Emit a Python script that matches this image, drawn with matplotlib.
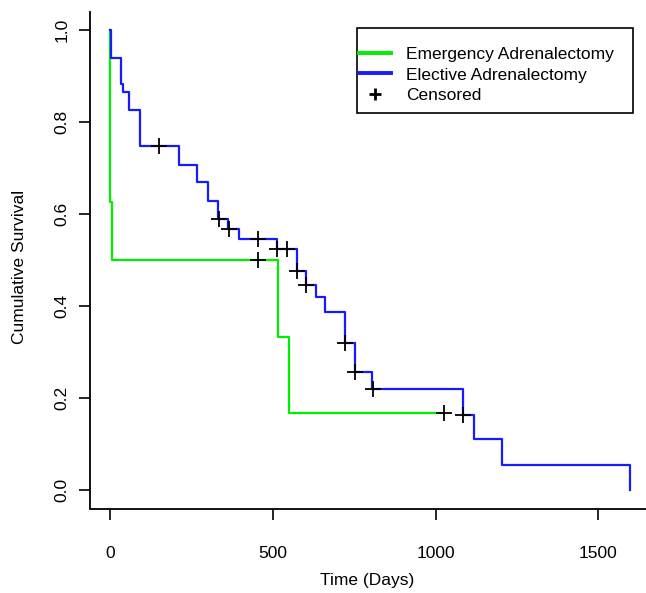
import numpy as np
import matplotlib.pyplot as plt
from matplotlib.lines import Line2D
from matplotlib.patches import Rectangle

plt.rcParams['font.family'] = ['Liberation Sans', 'DejaVu Sans']

# elective adrenalectomy: step times (days) and survival after each step
elective_t = [0, 4, 34, 39, 60, 91, 213, 269, 302, 333, 363, 397, 514, 575,
              602, 632, 662, 722, 752, 804, 1085, 1117, 1205, 1598]
elective_s = [1.0, 0.940, 0.882, 0.864, 0.826, 0.748, 0.707, 0.669, 0.629,
              0.589, 0.567, 0.545, 0.524, 0.476, 0.446, 0.419, 0.386, 0.320,
              0.257, 0.220, 0.163, 0.110, 0.054, 0.0]
elective_cens = [150, 335, 366, 455, 514, 543, 575, 602, 722, 752, 808, 1085]

# emergency adrenalectomy
emergency_t = [0, 1, 7, 516, 550]
emergency_s = [1.0, 0.625, 0.5, 0.333, 0.167]
emergency_end = 1025
emergency_cens = [456, 1025]

x_ticks = [0, 500, 1000, 1500]
y_ticks = [0.0, 0.2, 0.4, 0.6, 0.8, 1.0]


def level_at(t, s, times):
    idx = np.searchsorted(t, times, side='right') - 1
    return np.asarray(s)[idx]


fig = plt.figure(figsize=(6.46, 5.93), dpi=100)
W, H = 646, 593
ax = fig.add_axes([90 / W, 1 - 508.5 / H, (W - 90) / W, (508.5 - 11.5) / H])

green = '#00ee00'
blue = '#1a1aff'

ax.step(emergency_t + [emergency_end], emergency_s + [emergency_s[-1]],
        where='post', color=green, lw=1.6)
ax.step(elective_t, elective_s, where='post', color=blue, lw=1.6)

ax.plot(emergency_cens, level_at(emergency_t, emergency_s, emergency_cens),
        ls='none', marker='+', ms=11, mew=1.3, color='black')
ax.plot(elective_cens, level_at(elective_t, elective_s, elective_cens),
        ls='none', marker='+', ms=11, mew=1.3, color='black')

ax.set_xlim(-61, 1646)
ax.set_ylim(-0.04, 1.04)
ax.set_xticks(x_ticks)
ax.set_yticks(y_ticks)
ax.set_xticklabels([str(v) for v in x_ticks])
ax.set_yticklabels(['%.1f' % v for v in y_ticks], rotation=90, va='center')
ax.spines['top'].set_visible(False)
ax.spines['right'].set_visible(False)
for sp in ['left', 'bottom']:
    ax.spines[sp].set_linewidth(1.3)
ax.tick_params(axis='both', length=8, width=1.2, labelsize=12.5)
ax.tick_params(axis='x', pad=19)
ax.tick_params(axis='y', pad=7)

fig.text(20 / W, 1 - 267 / H, 'Cumulative Survival', rotation=90,
         ha='center', va='center', fontsize=12.5)
fig.text(367 / W, 1 - 580 / H, 'Time (Days)', ha='center', va='center',
         fontsize=12.5)

# legend box drawn separately (R-style, handles hug the left edge)
fig.add_artist(Rectangle((357 / W, 1 - 113 / H), 276 / W, 85 / H,
                         transform=fig.transFigure, fill=False,
                         edgecolor='black', lw=1.2))
handles = [Line2D([], [], color=green, lw=2.8),
           Line2D([], [], color=blue, lw=2.8),
           Line2D([], [], ls='none', marker='+', ms=9, mew=2, color='black')]
labels = ['Emergency Adrenalectomy', 'Elective Adrenalectomy', 'Censored']
leg = fig.legend(handles, labels, loc='upper left',
                 bbox_to_anchor=(359 / W, 1 - 47 / H), fontsize=12.5,
                 frameon=False, borderpad=0, borderaxespad=0,
                 labelspacing=0.3, handlelength=1.85, handletextpad=0.87)

fig.savefig('out.png', dpi=100)
